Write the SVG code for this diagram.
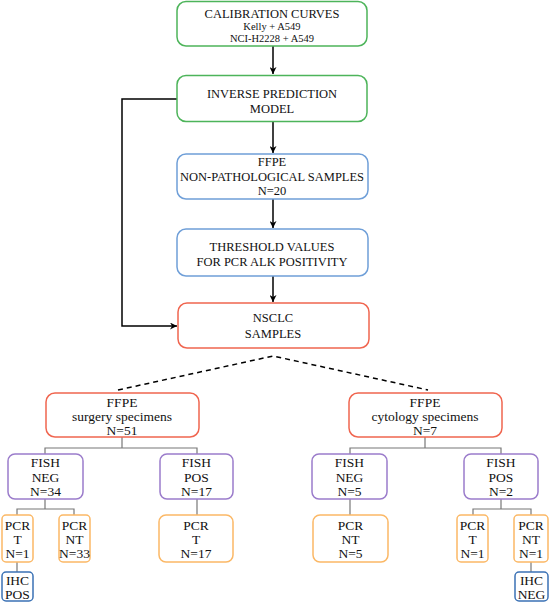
<svg xmlns="http://www.w3.org/2000/svg" width="550" height="602" viewBox="0 0 550 602">
<defs>
<marker id="ah" viewBox="0 0 10 10" refX="10" refY="5" markerWidth="7" markerHeight="7" orient="auto" markerUnits="userSpaceOnUse">
<path d="M0,0 L10,5 L0,10 L3,5 Z" fill="#000"/>
</marker>
<style>
rect{fill:#fff;stroke-width:1.5}
.g{stroke:#4db45a}
.b{stroke:#6f9fd8}
.r{stroke:#f0654f}
.p{stroke:#9b7ccb}
.o{stroke:#fbb866}
.d{stroke:#3b72b5}
text{font-size:12.5px;fill:#111;text-anchor:middle}
.s{font-size:10.5px}
.l{font-size:13.5px}
.arr{stroke:#000;stroke-width:1.5;fill:none;marker-end:url(#ah)}
.tree{stroke:#777;stroke-width:1.2;fill:none}
.dash{stroke:#000;stroke-width:1.5;fill:none;stroke-dasharray:5,4}
</style>
</defs>
<g id="connectors">
<path class="arr" d="M273,46 V74"/>
<path class="arr" d="M273,122 V153"/>
<path class="arr" d="M273,199 V228"/>
<path class="arr" d="M273,276 V302"/>
<path class="arr" d="M177,99 H122 V326 H177"/>
<path class="dash" d="M118,390 L273,356 L428,390"/>
<path class="tree" d="M122,437 V448 M45,454 V448 H197 V454"/>
<path class="tree" d="M425,437 V448 M350,454 V448 H501 V454"/>
<path class="tree" d="M45,499 V509 M17,515 V509 H74 V515"/>
<path class="tree" d="M197,499 V515"/>
<path class="tree" d="M350,499 V515"/>
<path class="tree" d="M501,499 V509 M473,515 V509 H531 V515"/>
<path class="tree" d="M17,562 V572"/>
<path class="tree" d="M531,562 V572"/>
</g>
<g font-family="'Liberation Serif', 'Times New Roman', 'DejaVu Serif', serif">
<g id="calibration">
<rect class="g" x="177" y="1.5" width="190" height="44.5" rx="9"/>
<text x="272" y="18">CALIBRATION CURVES</text>
<text class="s" x="272" y="30">Kelly + A549</text>
<text class="s" x="272" y="42">NCI-H2228 + A549</text>
</g>
<g id="inverse">
<rect class="g" x="177" y="75.5" width="190" height="46" rx="9"/>
<text x="272" y="97.5">INVERSE PREDICTION</text>
<text x="272" y="112.5">MODEL</text>
</g>
<g id="ffpe-nonpath">
<rect class="b" x="177" y="154" width="191" height="45" rx="9"/>
<text x="272" y="165.5">FFPE</text>
<text x="272" y="180.5">NON-PATHOLOGICAL SAMPLES</text>
<text x="272" y="194.5">N=20</text>
</g>
<g id="threshold">
<rect class="b" x="177" y="229" width="191" height="47" rx="9"/>
<text x="272" y="250.5">THRESHOLD VALUES</text>
<text x="272" y="265.5">FOR PCR ALK POSITIVITY</text>
</g>
<g id="nsclc">
<rect class="r" x="178" y="303" width="191" height="45" rx="9"/>
<text x="273" y="321.5">NSCLC</text>
<text x="273" y="337.5">SAMPLES</text>
</g>
<g id="ffpe-surgery">
<rect class="r" x="46" y="393" width="153" height="44" rx="9"/>
<text class="l" x="122" y="406.5">FFPE</text>
<text class="l" x="122" y="420.5">surgery specimens</text>
<text class="l" x="122" y="434.5">N=51</text>
</g>
<g id="ffpe-cytology">
<rect class="r" x="349" y="393" width="153" height="44" rx="9"/>
<text class="l" x="425" y="406.5">FFPE</text>
<text class="l" x="425" y="420.5">cytology specimens</text>
<text class="l" x="425" y="434.5">N=7</text>
</g>
<g id="fish-neg-s">
<rect class="p" x="8" y="454" width="75" height="45" rx="7"/>
<text class="l" x="45.5" y="466.5">FISH</text>
<text class="l" x="45.5" y="481.5">NEG</text>
<text class="l" x="45.5" y="495.5">N=34</text>
</g>
<g id="fish-pos-s">
<rect class="p" x="160" y="454" width="73" height="45" rx="7"/>
<text class="l" x="196.5" y="466.5">FISH</text>
<text class="l" x="196.5" y="481.5">POS</text>
<text class="l" x="196.5" y="495.5">N=17</text>
</g>
<g id="fish-neg-c">
<rect class="p" x="312" y="454" width="75" height="45" rx="7"/>
<text class="l" x="349.5" y="466.5">FISH</text>
<text class="l" x="349.5" y="481.5">NEG</text>
<text class="l" x="349.5" y="495.5">N=5</text>
</g>
<g id="fish-pos-c">
<rect class="p" x="464" y="454" width="74" height="45" rx="7"/>
<text class="l" x="501" y="466.5">FISH</text>
<text class="l" x="501" y="481.5">POS</text>
<text class="l" x="501" y="495.5">N=2</text>
</g>
<g id="pcr-t-1">
<rect class="o" x="2" y="515" width="31" height="47" rx="4"/>
<text class="l" x="17.5" y="529.5">PCR</text>
<text class="l" x="17.5" y="543.5">T</text>
<text class="l" x="17.5" y="557.5">N=1</text>
</g>
<g id="pcr-nt-33">
<rect class="o" x="59" y="515" width="31" height="47" rx="4"/>
<text class="l" x="74.5" y="529.5">PCR</text>
<text class="l" x="74.5" y="543.5">NT</text>
<text class="l" x="74.5" y="557.5">N=33</text>
</g>
<g id="pcr-t-17">
<rect class="o" x="159" y="515" width="74" height="47" rx="7"/>
<text class="l" x="196" y="529.5">PCR</text>
<text class="l" x="196" y="543.5">T</text>
<text class="l" x="196" y="557.5">N=17</text>
</g>
<g id="pcr-nt-5">
<rect class="o" x="313" y="515" width="75" height="47" rx="7"/>
<text class="l" x="350.5" y="529.5">PCR</text>
<text class="l" x="350.5" y="543.5">NT</text>
<text class="l" x="350.5" y="557.5">N=5</text>
</g>
<g id="pcr-t-1c">
<rect class="o" x="457" y="515" width="31" height="47" rx="4"/>
<text class="l" x="472.5" y="529.5">PCR</text>
<text class="l" x="472.5" y="543.5">T</text>
<text class="l" x="472.5" y="557.5">N=1</text>
</g>
<g id="pcr-nt-1c">
<rect class="o" x="514" y="515" width="34" height="47" rx="4"/>
<text class="l" x="531" y="529.5">PCR</text>
<text class="l" x="531" y="543.5">NT</text>
<text class="l" x="531" y="557.5">N=1</text>
</g>
<g id="ihc-pos">
<rect class="d" x="2" y="572" width="31" height="29" rx="4"/>
<text class="l" x="17.5" y="585">IHC</text>
<text class="l" x="17.5" y="599">POS</text>
</g>
<g id="ihc-neg">
<rect class="d" x="515" y="572" width="33" height="29" rx="4"/>
<text class="l" x="531.5" y="585">IHC</text>
<text class="l" x="531.5" y="599">NEG</text>
</g>
</g>
</svg>
